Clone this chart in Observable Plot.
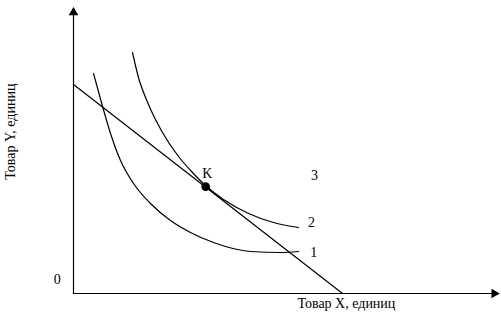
<!DOCTYPE html>
<html>
<head>
<meta charset="utf-8">
<script src="https://cdn.jsdelivr.net/npm/d3@7"></script>
<script src="https://cdn.jsdelivr.net/npm/@observablehq/plot@0.6"></script>
<style>
  html, body { margin: 0; padding: 0; background: #fff; }
</style>
</head>
<body>
<div id="chart"></div>
<script>
// Budget line (intercepts)
const budgetX = [0, 6.33];
const budgetY = [7.33, 0];

// Indifference curve 1
const curve1X = [0.471, 0.671, 0.871, 1.106, 1.412, 1.812, 2.282, 2.753, 3.294, 4.165, 4.871, 5.294];
const curve1Y = [7.719, 6.632, 5.614, 4.667, 3.860, 3.158, 2.561, 2.140, 1.789, 1.474, 1.439, 1.474];

// Indifference curve 2
const curve2X = [1.388, 1.529, 1.765, 2.094, 2.471, 2.800, 3.106, 3.529, 4.094, 4.706, 5.294];
const curve2Y = [8.456, 7.579, 6.632, 5.649, 4.807, 4.246, 3.789, 3.298, 2.825, 2.491, 2.316];

// Point K
const pointK = {x: 3.11, y: 3.75};

// Labels
const labelText = ["1", "2", "3", "K", "0"];
const labelX = [5.65, 5.6, 5.67, 3.15, -0.38];
const labelY = [1.44, 2.49, 4.14, 4.21, 0.49];

const xTitle = "Товар X, единиц";
const yTitle = "Товар Y, единиц";

const axisMax = {x: 9.9, y: 9.86};

const budget = budgetX.map((x, i) => ({x, y: budgetY[i]}));
const c1 = curve1X.map((x, i) => ({x, y: curve1Y[i]}));
const c2 = curve2X.map((x, i) => ({x, y: curve2Y[i]}));
const labels = labelText.map((t, i) => ({t, x: labelX[i], y: labelY[i]}));

const font = "Liberation Serif, Times New Roman, serif";

const plot = Plot.plot({
  width: 501,
  height: 316,
  marginLeft: 73,
  marginRight: 3,
  marginTop: 8,
  marginBottom: 23,
  x: {domain: [0, 10], axis: null},
  y: {domain: [0, 10], axis: null},
  style: {fontFamily: font, background: "#fff", color: "#000"},
  marks: [
    // axes
    Plot.line([{x: 0, y: 0}, {x: 0, y: axisMax.y}], {x: "x", y: "y", stroke: "#000", strokeWidth: 1.2}),
    Plot.line([{x: 0, y: 0}, {x: axisMax.x, y: 0}], {x: "x", y: "y", stroke: "#000", strokeWidth: 1.2}),
    Plot.dot([{x: 0, y: axisMax.y}], {x: "x", y: "y", symbol: "triangle", r: 3.6, fill: "#000", stroke: null}),
    Plot.dot([{x: axisMax.x, y: 0}], {x: "x", y: "y", symbol: "triangle", r: 3.6, fill: "#000", stroke: null, rotate: 90}),
    // budget line
    Plot.line(budget, {x: "x", y: "y", stroke: "#000", strokeWidth: 1.2}),
    // indifference curves
    Plot.line(c1, {x: "x", y: "y", stroke: "#000", strokeWidth: 1.2, curve: "monotone-x"}),
    Plot.line(c2, {x: "x", y: "y", stroke: "#000", strokeWidth: 1.2, curve: "monotone-x"}),
    // point K
    Plot.dot([pointK], {x: "x", y: "y", r: 4.3, fill: "#000", stroke: null}),
    // labels
    Plot.text(labels, {x: "x", y: "y", text: "t", fontSize: 14, fill: "#000"}),
    Plot.text([{x: 5.27, y: -0.35}], {x: "x", y: "y", text: [xTitle], textAnchor: "start", fontSize: 14, fill: "#000"}),
    Plot.text([{x: -1.48, y: 5.68}], {x: "x", y: "y", text: [yTitle], rotate: -90, fontSize: 14, fill: "#000"})
  ]
});
document.getElementById("chart").appendChild(plot);
</script>
</body>
</html>
